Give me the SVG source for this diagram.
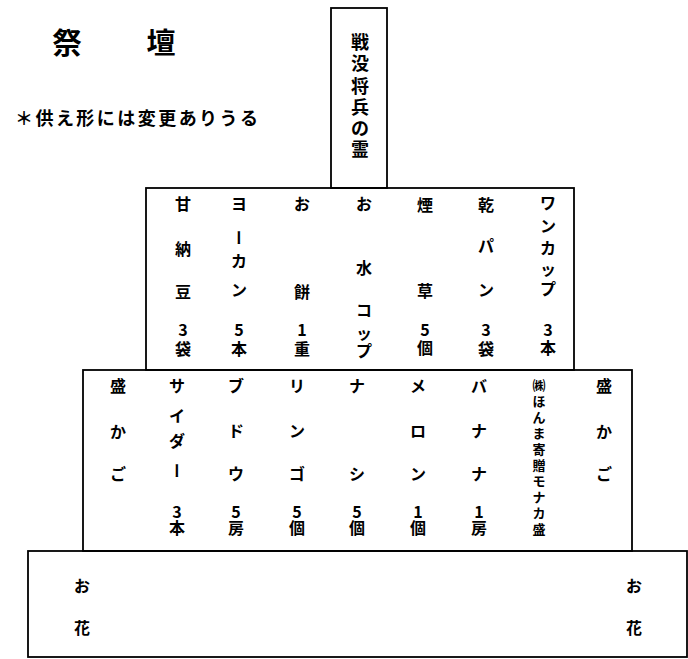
<svg xmlns="http://www.w3.org/2000/svg" width="688" height="659" viewBox="0 0 688 659">
<style>
  .box { fill: none; stroke: #000; stroke-width: 1.8; }
  text { font-family: "Noto Sans CJK JP", "Noto Sans CJK SC", sans-serif; fill: #000; text-anchor: middle; dominant-baseline: central; }
  .t { font-size: 16px; font-weight: bold; }
  .title { font-size: 29px; font-weight: bold; }
  .tab { font-size: 18px; font-weight: bold; }
  .small { font-size: 13px; font-weight: bold; }
  .note { font-size: 18px; font-weight: bold; text-anchor: start; dominant-baseline: alphabetic; }
  .v { writing-mode: vertical-rl; }
</style>
<rect width="688" height="659" fill="#fff"/>
<g id="title">
  <text class="title" x="67 161" y="41">祭壇</text>
</g>
<g id="note">
  <text class="note" x="15" y="125" textLength="243" lengthAdjust="spacing">＊供え形には変更ありうる</text>
</g>
<g id="tablet">
  <rect class="box" x="331" y="8" width="56" height="180"/>
  <text class="tab" x="360 360 360 360 360 360" y="41 62 85 106 127 148">戦没将兵の霊</text>
</g>
<g id="tier1">
  <rect class="box" x="146" y="188" width="428" height="182"/>
  <text class="t" x="183 183 183 183 183" y="203 248 291 329 348">甘納豆3袋</text>
  <text class="t" x="239" y="203">ヨ</text>
  <text class="t v" x="239" y="238">ー</text>
  <text class="t" x="239 239 239 239" y="260 289 329 348">カン5本</text>
  <text class="t" x="302 302 302 302" y="203 291 329 348">お餅1重</text>
  <text class="t" x="364 364 364 364 364" y="203 267 309 332 350">お水コップ</text>
  <text class="t" x="425 425 425 425" y="204 290 329 347">煙草5個</text>
  <text class="t" x="486 486 486 486 486" y="204 245 289 329 348">乾パン3袋</text>
  <text class="t" x="548 548 548 548 548 548 548" y="202 225 247 268 288 329 347">ワンカップ3本</text>
</g>
<g id="tier2">
  <rect class="box" x="83" y="370" width="549" height="181"/>
  <text class="t" x="118 118 118" y="385 431 473">盛かご</text>
  <text class="t" x="177 177 177" y="385 415 440">サイダ</text>
  <text class="t v" x="177" y="471">ー</text>
  <text class="t" x="177 177" y="511 527">3本</text>
  <text class="t" x="236 236 236 236 236" y="385 430 473 511 527">ブドウ5房</text>
  <text class="t" x="297 297 297 297 297" y="385 430 473 511 527">リンゴ5個</text>
  <text class="t" x="357 357 357 357" y="385 473 511 527">ナシ5個</text>
  <text class="t" x="418 418 418 418 418" y="385 430 473 511 527">メロン1個</text>
  <text class="t" x="479 479 479 479 479" y="385 430 473 511 527">バナナ1房</text>
  <text class="small" x="539 539 539 539 539 539 539 539 539 539" y="384 400 416 432 448 464 480 496 512 528">㈱ほんま寄贈モナカ盛</text>
  <text class="t" x="604 604 604" y="385 431 473">盛かご</text>
</g>
<g id="tier3">
  <rect class="box" x="28" y="551" width="659" height="106"/>
  <text class="t" x="82 82" y="585 627">お花</text>
  <text class="t" x="634 634" y="585 627">お花</text>
</g>
<g id="connectors"></g>
</svg>
